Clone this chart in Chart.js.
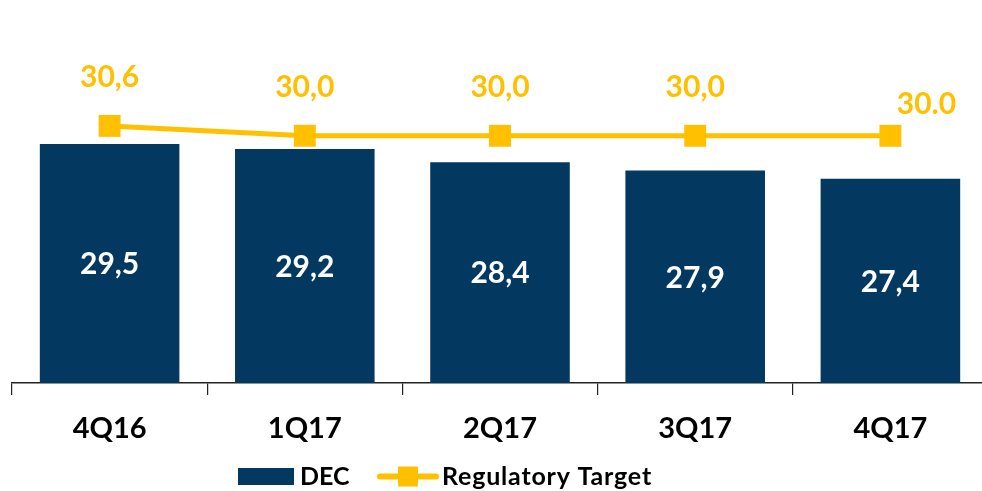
<!DOCTYPE html>
<html>
<head>
<meta charset="utf-8">
<script src="https://cdn.jsdelivr.net/npm/chart.js@4.4.1/dist/chart.umd.min.js"></script>
<style>
  html, body { margin: 0; padding: 0; background: #ffffff; overflow: hidden; }
  #wrap { position: relative; width: 988px; height: 491px; }
  #chart { display: block; }
</style>
</head>
<body>
<div id="wrap"><canvas id="chart" width="988" height="491"></canvas></div>
<script>
// Quarterly DEC figures against the regulatory target
const quarters = ['4Q16', '1Q17', '2Q17', '3Q17', '4Q17'];
const decValues = [29.5, 29.2, 28.4, 27.9, 27.4];
const targetValues = [30.6, 30.0, 30.0, 30.0, 30.0];
const targetLabels = ['30,6', '30,0', '30,0', '30,0', '30.0'];
const seriesNames = ['DEC', 'Regulatory Target'];

const NAVY = '#033861';
const GOLD = '#FFC000';
const FONT = 'Lato, "Open Sans", sans-serif';
const VALUE_SIZE = 30;

function fmtComma(v) { return v.toFixed(1).replace('.', ','); }

// Value labels: white inside the bars, gold above the target markers
const valueLabels = {
  id: 'valueLabels',
  afterDatasetsDraw(chart) {
    const ctx = chart.ctx;
    const area = chart.chartArea;
    const halfCap = VALUE_SIZE * 0.72 / 2;
    ctx.save();
    ctx.textAlign = 'center';
    ctx.textBaseline = 'alphabetic';
    ctx.font = 'bold ' + VALUE_SIZE + 'px ' + FONT;

    const barMeta = chart.getDatasetMeta(0);
    ctx.fillStyle = '#ffffff';
    barMeta.data.forEach((bar, i) => {
      const mid = (bar.y + area.bottom) / 2;
      ctx.fillText(fmtComma(decValues[i]), bar.x, mid + halfCap);
    });

    const lineMeta = chart.getDatasetMeta(1);
    ctx.fillStyle = GOLD;
    lineMeta.data.forEach((pt, i) => {
      const last = i === lineMeta.data.length - 1;
      const dx = last ? 36 : 0;
      const dy = last ? -32.5 : -49.5;
      ctx.fillText(targetLabels[i], pt.x + dx, pt.y + dy + halfCap);
    });
    ctx.restore();
  }
};

// Legend row beneath the category labels
const bottomLegend = {
  id: 'bottomLegend',
  afterDraw(chart) {
    const ctx = chart.ctx;
    const y = 476.5;
    ctx.save();
    ctx.font = 'bold 25px ' + FONT;
    ctx.textBaseline = 'alphabetic';
    ctx.textAlign = 'left';

    ctx.fillStyle = NAVY;
    ctx.fillRect(238, y - 8.5, 56, 17);
    ctx.fillStyle = '#000000';
    ctx.fillText(seriesNames[0], 300, y + 8);

    ctx.strokeStyle = GOLD;
    ctx.lineWidth = 6;
    ctx.lineCap = 'round';
    ctx.beginPath();
    ctx.moveTo(380, y);
    ctx.lineTo(436, y);
    ctx.stroke();
    ctx.fillStyle = GOLD;
    ctx.fillRect(398, y - 10, 20, 20);
    ctx.fillStyle = '#000000';
    ctx.letterSpacing = '0.8px';
    ctx.fillText(seriesNames[1], 442, y + 8);
    ctx.restore();
  }
};

new Chart(document.getElementById('chart'), {
  data: {
    labels: quarters,
    datasets: [
      {
        type: 'bar',
        label: seriesNames[0],
        data: decValues,
        backgroundColor: NAVY,
        barPercentage: 0.715,
        categoryPercentage: 1.0,
        order: 1
      },
      {
        type: 'line',
        label: seriesNames[1],
        data: targetValues,
        borderColor: GOLD,
        backgroundColor: GOLD,
        borderWidth: 5,
        pointStyle: 'rect',
        pointRadius: 15.5,
        pointHoverRadius: 15.5,
        pointBorderWidth: 0,
        tension: 0,
        clip: false,
        order: 0
      }
    ]
  },
  options: {
    responsive: false,
    animation: false,
    devicePixelRatio: 1,
    layout: { autoPadding: false, padding: { left: 12, right: 0, top: 0, bottom: 0 } },
    plugins: {
      legend: { display: false },
      tooltip: { enabled: false }
    },
    scales: {
      x: {
        offset: true,
        grid: {
          offset: true,
          drawOnChartArea: false,
          drawTicks: true,
          tickLength: 12,
          color: '#222222',
          lineWidth: 1.2
        },
        border: { display: true, color: '#222222', width: 1.5 },
        ticks: {
          color: '#000000',
          font: { family: FONT, size: 29, weight: 'bold' },
          padding: 16,
          maxRotation: 0
        },
        afterFit(scale) { scale.height = 108; }
      },
      y: {
        display: false,
        min: 15,
        max: 38.24
      }
    }
  },
  plugins: [valueLabels, bottomLegend]
});
</script>
</body>
</html>
